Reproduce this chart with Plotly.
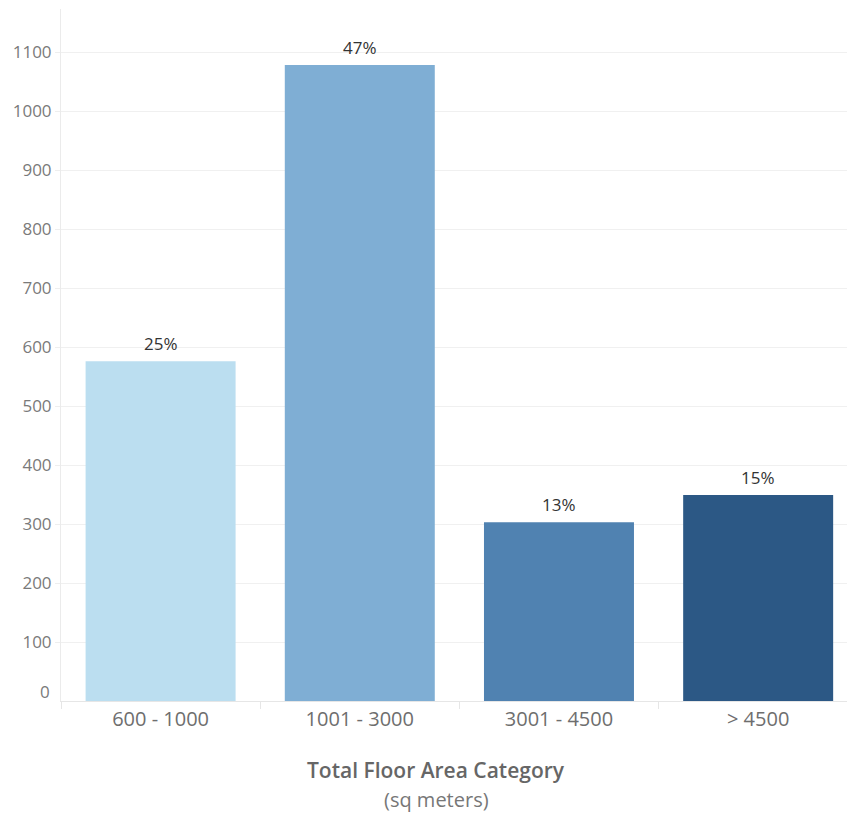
import plotly.graph_objects as go

# Building counts per total floor area band
categories = ["600 - 1000", "1001 - 3000", "3001 - 4500", "> 4500"]
counts = [576, 1078, 303, 349]
bar_colors = ["#bbdef0", "#7faed4", "#5082b1", "#2c5885"]
y_ticks = [100, 200, 300, 400, 500, 600, 700, 800, 900, 1000, 1100]

total = sum(counts)
shares = [f"{round(c / total * 100)}%" for c in counts]

FONT = "Open Sans"
W, H = 847, 813
L, R, T, B = 61, 0, 9, 112

fig = go.Figure(
    go.Bar(
        x=categories,
        y=counts,
        marker=dict(color=bar_colors, line=dict(width=0)),
        hoverinfo="x+y",
    )
)

# share labels above each bar
for cat, c, s in zip(categories, counts, shares):
    fig.add_annotation(
        x=cat, y=c, text=s, showarrow=False,
        yanchor="bottom", yshift=4,
        font=dict(family=FONT, size=17, color="#333333"),
    )

# zero label sits slightly above the baseline
fig.add_annotation(
    xref="paper", x=0, y=0, text="0", showarrow=False,
    xanchor="right", yanchor="middle", xshift=-9, yshift=10,
    font=dict(family=FONT, size=17, color="#7a7a7a"),
)

# axis title, two lines
plot_w = W - L - R
title_x = (436 - L) / plot_w
fig.add_annotation(
    xref="paper", yref="paper", x=title_x, y=0, yanchor="middle", yshift=-69,
    text="Total Floor Area Category", showarrow=False,
    font=dict(family=FONT, size=21, color="#666666", weight=600),
)
fig.add_annotation(
    xref="paper", yref="paper", x=title_x, y=0, yanchor="middle", yshift=-98,
    text="(sq meters)", showarrow=False,
    font=dict(family=FONT, size=20, color="#777777"),
)

fig.update_layout(
    width=W, height=H,
    margin=dict(l=L, r=R, t=T, b=B, pad=0),
    paper_bgcolor="white", plot_bgcolor="white",
    bargap=0.247,
    showlegend=False,
    font=dict(family=FONT),
)

fig.update_xaxes(
    type="category",
    range=[-0.5, 3.446],
    showline=True, linecolor="#e6e6e6", linewidth=1,
    ticks="outside", tickson="boundaries", ticklen=7, tickcolor="#e6e6e6",
    showgrid=False, zeroline=False,
    tickfont=dict(family=FONT, size=20, color="#6e6e6e"),
)

fig.update_yaxes(
    range=[0, 1173],
    tickvals=y_ticks,
    showline=True, linecolor="#ebebeb", linewidth=1,
    ticks="outside", ticklen=5, tickcolor="#eeeeee",
    showgrid=True, gridcolor="#f0f0f0", gridwidth=1,
    zeroline=False,
    tickfont=dict(family=FONT, size=17, color="#7a7a7a"),
)

fig.write_html("out.html")
